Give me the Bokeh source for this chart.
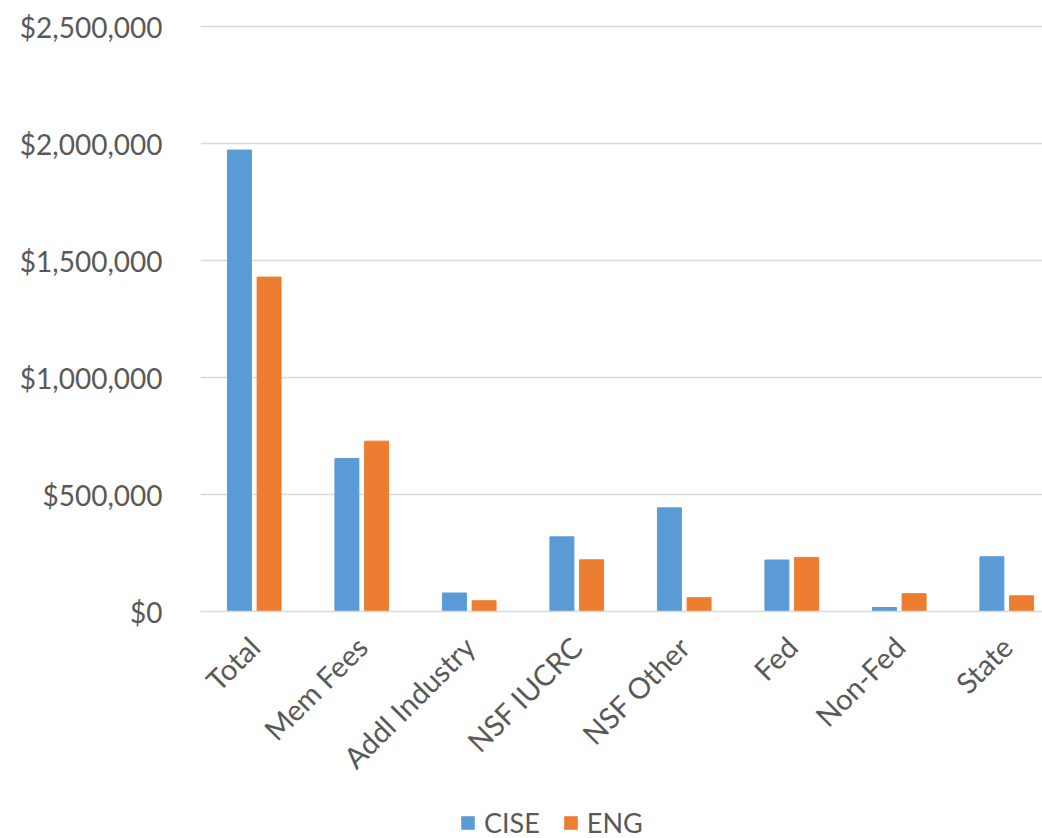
from bokeh.plotting import figure
from bokeh.models import Range1d, FixedTicker, NumeralTickFormatter, Legend, LegendItem
from bokeh.layouts import column
from bokeh.embed import file_html
from bokeh.resources import INLINE
import math

categories = ["Total", "Mem Fees", "Addl Industry", "NSF IUCRC", "NSF Other", "Fed", "Non-Fed", "State"]
cise = [1972000, 654000, 79000, 319000, 443000, 220000, 17000, 234000]
eng = [1429000, 728000, 46000, 221000, 59000, 231000, 76000, 67000]
y_ticks = [0, 500000, 1000000, 1500000, 2000000, 2500000]
series_names = ["CISE", "ENG"]
series_colors = ["#5b9bd5", "#ed7d31"]

positions = list(range(1, len(categories) + 1))
off = 0.138
bw = 0.223
font = "Lato"
txt = "#595959"

W = 1042
H_MAIN = 796
H_LEG = 838 - H_MAIN
TOP = 24  # frame top; the 2.5M gridline sits 2px below it
y_end = 2500000 * (611 - TOP) / 585.0

p = figure(width=W, height=H_MAIN, output_backend="svg", toolbar_location=None,
           x_range=Range1d(0.5, 0.5 + 842 / 107.5), y_range=Range1d(0, y_end),
           min_border_left=200, min_border_top=TOP, min_border_bottom=H_MAIN - 611, min_border_right=0)
p.outline_line_color = None

p.vbar(x=[x - off for x in positions], top=cise, width=bw, color=series_colors[0])
p.vbar(x=[x + off for x in positions], top=eng, width=bw, color=series_colors[1])

p.yaxis.ticker = FixedTicker(ticks=y_ticks)
p.yaxis.formatter = NumeralTickFormatter(format="$0,0")
p.yaxis.axis_line_color = None
p.yaxis.major_tick_line_color = None
p.yaxis.minor_tick_line_color = None
p.yaxis.major_label_text_font = font
p.yaxis.major_label_text_font_size = "28px"
p.yaxis.major_label_text_color = txt
p.yaxis.major_label_standoff = 32

p.xaxis.ticker = FixedTicker(ticks=positions)
p.xaxis.major_label_overrides = {i: c for i, c in zip(positions, categories)}
p.xaxis.major_label_orientation = math.pi / 4
p.xaxis.axis_line_color = "#d9d9d9"
p.xaxis.axis_line_width = 1.5
p.xaxis.major_tick_line_color = None
p.xaxis.minor_tick_line_color = None
p.xaxis.major_label_text_font = font
p.xaxis.major_label_text_font_size = "29px"
p.xaxis.major_label_text_color = txt
p.xaxis.major_label_standoff = 24

p.xgrid.grid_line_color = None
p.ygrid.grid_line_color = "#d9d9d9"
p.ygrid.grid_line_width = 1.5

# Legend strip below the chart (its frame is aligned with the main chart's frame)
lg = figure(width=W, height=H_LEG, output_backend="svg", toolbar_location=None,
            x_range=Range1d(0, 1), y_range=Range1d(0, 1),
            min_border_left=0, min_border_right=0, min_border_top=0, min_border_bottom=0)
lg.outline_line_color = None
lg.axis.visible = False
lg.grid.visible = False
rs = [lg.vbar(x=[0.5], top=[0], bottom=[0], width=0.1, fill_color=c, line_alpha=0) for c in series_colors]
legend = Legend(items=[LegendItem(label=n, renderers=[r]) for n, r in zip(series_names, rs)],
                orientation="horizontal", location=(259, -1),
                glyph_width=17, glyph_height=17, label_standoff=8, spacing=22,
                padding=0, margin=0, border_line_alpha=0, background_fill_alpha=0,
                label_text_font=font, label_text_font_size="27px", label_text_color=txt)
lg.add_layout(legend, "center")

layout = column(p, lg, spacing=0)
open("out.html", "w").write(file_html(layout, INLINE))
